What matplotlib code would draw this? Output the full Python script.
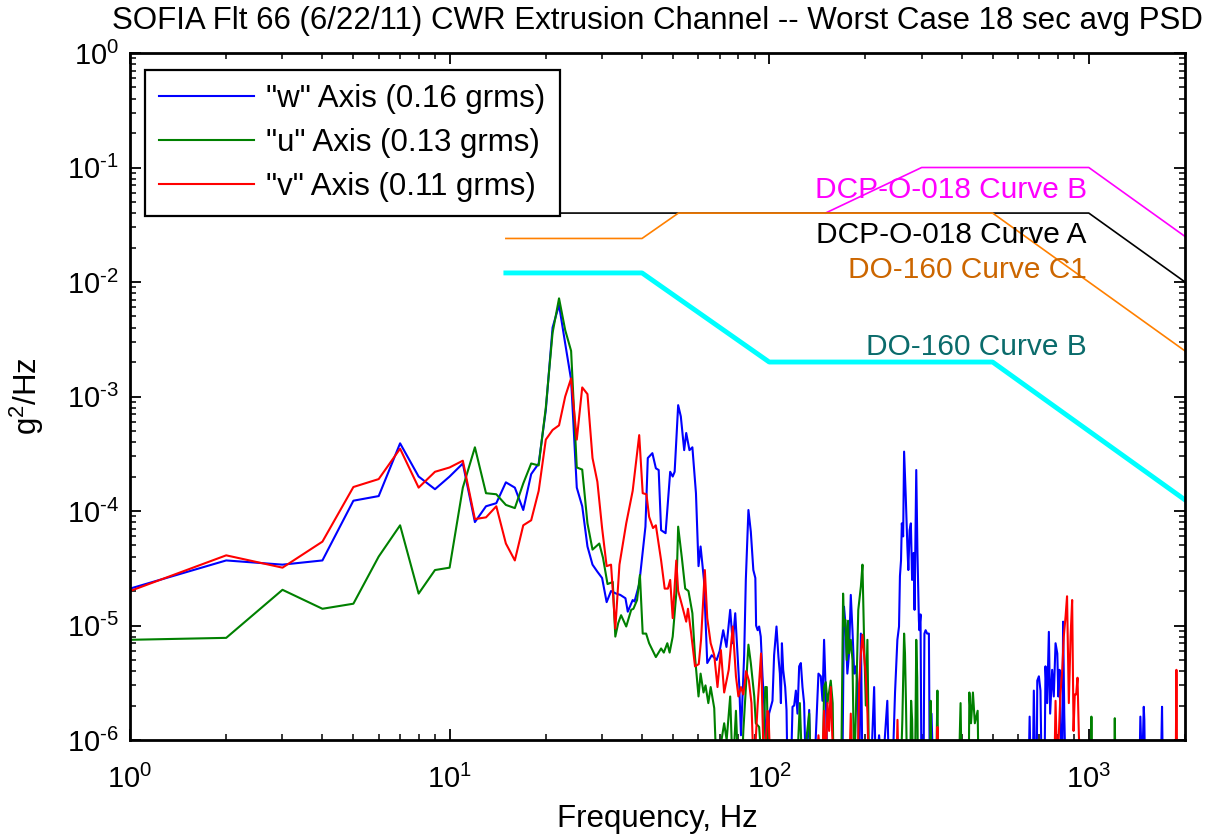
import matplotlib
matplotlib.use('Agg')
import matplotlib.pyplot as plt
import numpy as np
from matplotlib.ticker import LogLocator, NullFormatter, FuncFormatter

plt.rcParams['font.family'] = ['Liberation Sans', 'DejaVu Sans']
plt.rcParams['mathtext.fontset'] = 'custom'
plt.rcParams['mathtext.rm'] = 'Liberation Sans'
plt.rcParams['mathtext.default'] = 'regular'
plt.rcParams['axes.unicode_minus'] = False

# ---- measured PSDs (values below 1e-6 drop off the bottom of the plot) ----
freq_w = [1, 2, 3, 4, 5, 6, 7, 8, 9, 10, 11, 12, 13, 14, 15, 16, 17, 18, 19, 20,
          21, 22, 23, 24, 25, 26, 27, 28, 29, 30, 31, 32, 33.2, 34.2, 35.5, 36.1, 37.4, 37.9, 39.2, 41.0,
          41.7, 43.1, 44.2, 45.1, 45.9, 47.4, 49.0, 49.9, 50.6, 51.9, 52.9, 54.2, 55.0, 56.3, 57.5, 59.0,
          60.1, 61.0, 62.5, 64.0, 66.1, 68.5, 70.0, 71.8, 73.5, 75.5, 76.9, 78.3, 80.6, 81.6, 83.5, 84.5,
          86.1, 87.6, 89.2, 90.5, 91.0, 92.0, 93.0, 94.1, 95.3, 96.4, 98.8, 99.9, 102.4, 103.6, 105.4, 106.9,
          108.0, 108.8, 109.6, 110.6, 112.2, 113.3, 114.1, 116.9, 118.3, 119.7, 121.2, 122.6, 124.1, 125.6,
          127.1, 128.6, 130.2, 133.4, 135.0, 138.3, 142.6, 145.0, 146.8, 148.5, 150.3, 152.2, 169.4, 171.4,
          173.5, 175.6, 177.8, 180.0, 182.2, 184.5, 186.7, 189.0, 191.3, 193.6, 195.8, 208, 213, 215.5,
          220.7, 226, 234.2, 237, 243, 247.6, 251.8, 254.8, 256.5, 258.5, 260, 262.5, 264.3, 267.5,
          270.6, 272.5, 275, 277.5, 280, 283, 285, 288.5, 291, 294, 295, 297.5, 299.5, 304,
          306, 308.6, 312, 316, 318, 322, 326, 648, 653, 658, 668, 673, 680, 687,
          690, 698, 706, 712, 727, 732, 741, 750, 757, 768, 777, 787, 797, 803,
          810, 815, 826, 831, 838, 846, 1440, 1450, 1468, 1486, 1492, 1500, 1680, 1695,
          1705, 2000]
psd_w = [2.1e-5, 3.7e-5, 3.4e-5, 3.7e-5, 1.23e-4, 1.35e-4, 3.9e-4, 2.0e-4, 1.55e-4, 2.0e-4,
         2.6e-4, 8.0e-5, 1.1e-4, 1.17e-4, 1.78e-4, 1.6e-4, 1.02e-4, 2.1e-4, 2.6e-4, 7.6e-4,
         4.0e-3, 6.3e-3, 2.9e-3, 1.4e-3, 1.6e-4, 1.1e-4, 4.9e-5, 3.4e-5, 2.95e-5, 2.6e-5,
         1.6e-5, 2.0e-5, 1.9e-5, 1.85e-5, 1.73e-5, 1.32e-5, 1.67e-5, 1.62e-5, 2.3e-5, 7.3e-5,
         2.9e-4, 3.2e-4, 2.36e-4, 2.28e-4, 6.8e-5, 6.4e-5, 2.2e-4, 2.0e-4, 2.2e-4, 8.4e-4,
         6.7e-4, 3.4e-4, 4.8e-4, 3.4e-4, 3.6e-4, 1.43e-4, 3.3e-5, 4.9e-5, 2.5e-5, 4.7e-6,
         5.5e-6, 5.0e-6, 6.0e-6, 9.1e-6, 6.5e-6, 1.37e-5, 7.0e-6, 1.28e-5, 3.0e-6, 1.1e-6,
         5.5e-6, 2.5e-5, 1.02e-4, 6.6e-5, 3.05e-5, 2.6e-5, 1.0e-5, 9.1e-6, 9.8e-6, 8.0e-6,
         3.6e-6, 2.1e-6, 5e-7, 1.7e-6, 2.2e-6, 5.5e-6, 9.8e-6, 5.3e-6, 3.8e-6, 2.1e-6,
         7.0e-6, 4.1e-6, 2.9e-6, 1.83e-6, 5e-7, 5e-7, 1.95e-6, 2.0e-6, 2.7e-6, 1.7e-6,
         4.4e-6, 4.7e-6, 2.9e-6, 2.1e-6, 5e-7, 1.83e-6, 5e-7, 5e-7, 3.8e-6, 3.6e-6,
         2.2e-6, 7.5e-6, 2.6e-6, 5e-7, 5e-7, 1.46e-5, 9.8e-6, 3.8e-6, 5.7e-6, 1.85e-5,
         9.1e-6, 3.8e-6, 4.4e-6, 3.1e-6, 5e-7, 8.5e-6, 5e-7, 5e-7, 2.9e-6, 5e-7,
         1.1e-6, 5e-7, 2.2e-6, 5e-7, 5e-7, 2.6e-6, 7.5e-6, 9.8e-6, 2.7e-5, 3.7e-5,
         7.8e-5, 6.0e-5, 3.3e-4, 1.33e-4, 4.9e-5, 3.05e-5, 6.8e-5, 7.8e-5, 2.5e-5, 4.3e-5,
         1.37e-5, 2.28e-4, 4.3e-5, 1.12e-5, 9.1e-6, 1.25e-5, 5e-7, 5e-7, 8.5e-6, 9.1e-6,
         8.5e-6, 8.5e-6, 5e-7, 1.7e-6, 5e-7, 5e-7, 1.6e-6, 5e-7, 5e-7, 2.7e-6,
         5e-7, 5e-7, 3.3e-6, 3.6e-6, 2.7e-6, 5e-7, 5e-7, 4.4e-6, 2.1e-6, 8.8e-6,
         1.7e-6, 4.1e-6, 2.4e-6, 7.0e-6, 5.7e-6, 2.4e-6, 4.1e-6, 1.4e-6, 5e-7, 1.08e-5,
         1.7e-6, 5e-7, 5e-7, 1.6e-6, 5e-7, 1.95e-6, 1.5e-6, 5e-7, 5e-7, 1.95e-6,
         5e-7, 5e-7]

freq_u = [1, 2, 3, 4, 5, 6, 7, 8, 9, 10, 11, 12, 13, 14, 15, 16, 17, 18, 19, 20,
          21, 22, 23, 24, 25, 26, 27, 28, 29.4, 30.2, 31.2, 32.4, 33.0, 33.7, 34.4, 35.7, 37.0, 37.6,
          38.6, 39.4, 40.2, 41.2, 42.1, 44.2, 45.9, 46.8, 48.0, 48.8, 49.9, 51.2, 51.9, 53.3,
          54.6, 55.9, 57.5, 58.6, 60.1, 61.0, 62.3, 63.2, 64.5, 65.6, 67.3, 68.5, 70.5, 72.3,
          73.6, 75.5, 76.9, 78.7, 80.1, 82.0, 83.0, 86.1, 87.6, 89.8, 90.8, 93.0, 95.3, 97.2,
          98.3, 99.5, 122, 124.7, 127, 133.4, 135, 147, 148.5, 150.3, 152.2, 155.8, 158, 159,
          168, 170.3, 171.5, 173, 174.8, 176.5, 177.8, 180.0, 182.2, 184.5, 186.7, 190.0, 193.6, 195.8,
          198, 200.6, 202.9, 205.4, 258, 261, 264.3, 266, 268, 270, 276, 278, 280, 282,
          286, 288.5, 290.5, 292, 318, 320, 322, 333, 336, 338, 392, 397, 400, 421,
          423, 428, 434, 440, 449, 452, 1015, 1019, 1023, 1200, 1206, 1212, 2000]
psd_u = [7.5e-6, 7.8e-6, 2.05e-5, 1.4e-5, 1.55e-5, 4.0e-5, 7.5e-5, 1.9e-5, 3.05e-5, 3.2e-5,
         1.6e-4, 3.6e-4, 1.43e-4, 1.4e-4, 1.13e-4, 1.06e-4, 1.74e-4, 2.6e-4, 2.5e-4, 8.0e-4,
         3.6e-3, 7.2e-3, 3.8e-3, 2.5e-3, 2.4e-4, 2.3e-4, 7.8e-5, 4.6e-5, 5.2e-5, 3.9e-5,
         2.3e-5, 2.4e-5, 8.0e-6, 1.05e-5, 1.23e-5, 9.8e-6, 1.37e-5, 1.4e-5, 1.67e-5, 2.76e-5,
         8.5e-6, 8.5e-6, 7.0e-6, 5.3e-6, 6.3e-6, 5.8e-6, 7.0e-6, 5.8e-6, 8.0e-6, 1.9e-5,
         7.3e-5, 3.9e-5, 2.1e-5, 2.0e-5, 1.28e-5, 5.3e-6, 2.4e-6, 3.8e-6, 2.6e-6, 3.0e-6,
         2.1e-6, 2.9e-6, 1.9e-6, 5e-7, 9e-7, 1.4e-6, 1.0e-6, 2.4e-6, 5e-7, 1.8e-6,
         5e-7, 5e-7, 1.2e-6, 6.8e-6, 4.7e-6, 2.4e-6, 1.4e-6, 1.3e-6, 5e-7, 2.9e-6,
         2.9e-6, 5e-7, 5e-7, 2.1e-6, 5e-7, 1.7e-6, 5e-7, 5e-7, 2.9e-6, 3.2e-6,
         2.1e-6, 3.3e-6, 2.1e-6, 5e-7, 5e-7, 1.9e-5, 1.0e-5, 1.12e-5, 5.0e-6, 1.1e-5,
         5.7e-6, 7.5e-6, 5.0e-6, 5e-7, 1.7e-6, 1.37e-5, 2.2e-5, 3.4e-5, 8.0e-6, 2.0e-6,
         7.5e-6, 5e-7, 5e-7, 1.5e-6, 8.5e-6, 5.7e-6, 2.0e-6, 5e-7, 5e-7, 2.2e-6,
         1.5e-6, 5e-7, 5e-7, 7.5e-6, 3.5e-6, 5e-7, 5e-7, 2.2e-6, 5e-7, 5e-7,
         2.7e-6, 5e-7, 5e-7, 2.1e-6, 5e-7, 5e-7, 2.6e-6, 1.4e-6, 2.6e-6, 1.4e-6,
         1.8e-6, 5e-7, 5e-7, 1.6e-6, 5e-7, 5e-7, 1.55e-6, 5e-7, 5e-7]

freq_v = [1, 2, 3, 4, 5, 6, 7, 8, 9, 10, 11, 12, 13, 14, 15, 16, 17, 18, 19, 20,
          21, 22, 23, 24, 25, 26, 27, 28, 29, 30, 31, 32, 33.0, 34, 35.7, 37.4, 39.2, 40.2,
          41.3, 42.1, 43.3, 44.2, 45.9, 47.1, 48.2, 49.0, 49.9, 51.2, 51.9, 53.5, 55.0, 55.7,
          57.0, 58.6, 60.2, 61.2, 62.9, 64.0, 65.6, 67.3, 68.9, 70.6, 72.3, 74.7, 76.9, 78.7,
          80.1, 81.6, 83.0, 84.7, 86.4, 88, 89.5, 92, 94.3, 95.3, 96.4, 98.8, 99.5, 101,
          140, 142.6, 146, 148.5, 150, 152.2, 154, 155.8, 157.5, 160, 178, 180.0, 182, 189,
          191.3, 193.6, 195.8, 198, 200.6, 203, 205, 250, 252, 254, 334, 336, 338, 780,
          787, 797, 815, 826, 835, 846, 855, 866, 877, 887, 896, 904, 913, 922,
          931, 942, 1870, 1880, 1890, 2000]
psd_v = [2.0e-5, 4.1e-5, 3.2e-5, 5.4e-5, 1.62e-4, 1.9e-4, 3.5e-4, 1.6e-4, 2.2e-4, 2.4e-4,
         2.75e-4, 8.5e-5, 8.8e-5, 1.1e-4, 5.2e-5, 3.7e-5, 7.5e-5, 8.3e-5, 1.5e-4, 4.2e-4,
         5.1e-4, 5.6e-4, 1.0e-3, 1.44e-3, 4.2e-4, 1.2e-3, 1.05e-3, 2.9e-4, 1.8e-4, 7.1e-5,
         3.3e-5, 3.4e-5, 9.4e-6, 3.4e-5, 7.8e-5, 1.5e-4, 4.6e-4, 1.43e-4, 1.4e-4, 8.9e-5,
         7.1e-5, 7.5e-5, 3.7e-5, 2.1e-5, 2.1e-5, 2.5e-5, 1.16e-5, 3.7e-5, 2.0e-5, 1.46e-5,
         1.08e-5, 1.4e-5, 8.5e-6, 4.4e-6, 4.6e-6, 7.5e-6, 3.05e-5, 1.16e-5, 7.0e-6, 5.5e-6,
         2.9e-6, 6.1e-6, 2.6e-6, 4.1e-6, 9.8e-6, 3.6e-6, 2.4e-6, 2.9e-6, 2.5e-6, 4.0e-6,
         3.3e-6, 2.1e-6, 5e-7, 2.0e-6, 5.7e-6, 1.6e-6, 5e-7, 1.8e-6, 1.7e-6, 5e-7,
         5e-7, 1.1e-6, 5e-7, 1.8e-6, 5e-7, 2.1e-6, 1.2e-6, 2.9e-6, 1.1e-6, 5e-7,
         5e-7, 1.7e-6, 5e-7, 5e-7, 3.1e-6, 5.7e-6, 8.3e-6, 5.7e-6, 3.6e-6, 1.7e-6,
         5e-7, 5e-7, 1.5e-6, 5e-7, 5e-7, 1.3e-6, 5e-7, 5e-7, 2.2e-6, 5e-7,
         2.5e-6, 4.1e-6, 8.0e-6, 1.2e-5, 1.8e-5, 2.1e-6, 8.0e-6, 1.67e-5, 1.2e-6, 2.5e-6,
         2.5e-6, 3.5e-6, 1.1e-6, 5e-7, 5e-7, 4.1e-6, 5e-7, 5e-7]

# ---- specification curves ----
curveB_018_f = [150, 300, 1000, 2000]
curveB_018_v = [0.04, 0.1, 0.1, 0.025]
curveA_018_f = [15, 1000, 2000]
curveA_018_v = [0.04, 0.04, 0.01]
c1_160_f = [15, 40, 52, 500, 2000]
c1_160_v = [0.024, 0.024, 0.04, 0.04, 0.0025]
b_160_f = [15, 40, 100, 500, 2000]
b_160_v = [0.012, 0.012, 0.002, 0.002, 0.000125]


def pow10_label(val, pos):
    # matlab style 10^n, with a short hyphen for the minus
    e = int(round(np.log10(val)))
    s = str(abs(e))
    if e < 0:
        s = r'\text{-}' + s
    return r'$10^{%s}$' % s


fig = plt.figure(figsize=(12.1, 8.39), dpi=100)
ax = fig.add_axes([130/1210, 1-740/839, 1055/1210, 687/839])

ax.loglog(freq_w, psd_w, color='#0000FF', lw=1.5, label='"w" Axis (0.16 grms)')
ax.loglog(freq_u, psd_u, color='#008000', lw=1.5, label='"u" Axis (0.13 grms)')
ax.loglog(freq_v, psd_v, color='#FF0000', lw=1.5, label='"v" Axis (0.11 grms)')

ax.loglog(curveB_018_f, curveB_018_v, color='#FF00FF', lw=1.2)
ax.loglog(curveA_018_f, curveA_018_v, color='black', lw=1.2)
ax.loglog(c1_160_f, c1_160_v, color='#FF8000', lw=1.2)
ax.loglog(b_160_f, b_160_v, color='#00FFFF', lw=3.5)

ax.text(985, 0.0542, 'DCP-O-018 Curve B', color='#FF00FF', fontsize=21.5, ha='right', va='baseline')
ax.text(985, 0.0219, 'DCP-O-018 Curve A', color='black', fontsize=21.5, ha='right', va='baseline')
ax.text(985, 0.01083, 'DO-160 Curve C1', color='#CC6600', fontsize=21.5, ha='right', va='baseline')
ax.text(985, 0.0023, 'DO-160 Curve B', color='#0A6B6B', fontsize=21.5, ha='right', va='baseline')

ax.set_xlim(1, 2000)
ax.set_ylim(1e-6, 1)
ax.xaxis.set_major_locator(LogLocator(base=10, numticks=10))
ax.yaxis.set_major_locator(LogLocator(base=10, numticks=10))
ax.xaxis.set_minor_locator(LogLocator(base=10, subs=range(2, 10), numticks=20))
ax.yaxis.set_minor_locator(LogLocator(base=10, subs=range(2, 10), numticks=20))
ax.xaxis.set_major_formatter(FuncFormatter(pow10_label))
ax.yaxis.set_major_formatter(FuncFormatter(pow10_label))
ax.xaxis.set_minor_formatter(NullFormatter())
ax.yaxis.set_minor_formatter(NullFormatter())

ax.tick_params(which='both', direction='in', top=True, right=True, labelsize=21)
ax.tick_params(which='major', length=8, width=1.3)
ax.tick_params(which='minor', length=4, width=1.1)
ax.tick_params(axis='x', which='major', pad=18)
ax.tick_params(axis='y', which='major', pad=8)
for sp in ax.spines.values():
    sp.set_linewidth(2)

ax.set_title('SOFIA Flt 66 (6/22/11) CWR Extrusion Channel -- Worst Case 18 sec avg PSD',
             fontsize=22.5, pad=17)
ax.set_xlabel('Frequency, Hz', fontsize=22.5, labelpad=7)
ax.set_ylabel('g$^2$/Hz', fontsize=22.5, labelpad=15)

leg = ax.legend(loc='upper left', bbox_to_anchor=(0.0142, 0.975), borderaxespad=0,
                fontsize=22.5, handlelength=3.05, handletextpad=0.38, labelspacing=0.45,
                borderpad=0.45, fancybox=False, framealpha=1, edgecolor='black')
leg.get_frame().set_linewidth(1.6)

fig.savefig('out.png', dpi=100)
